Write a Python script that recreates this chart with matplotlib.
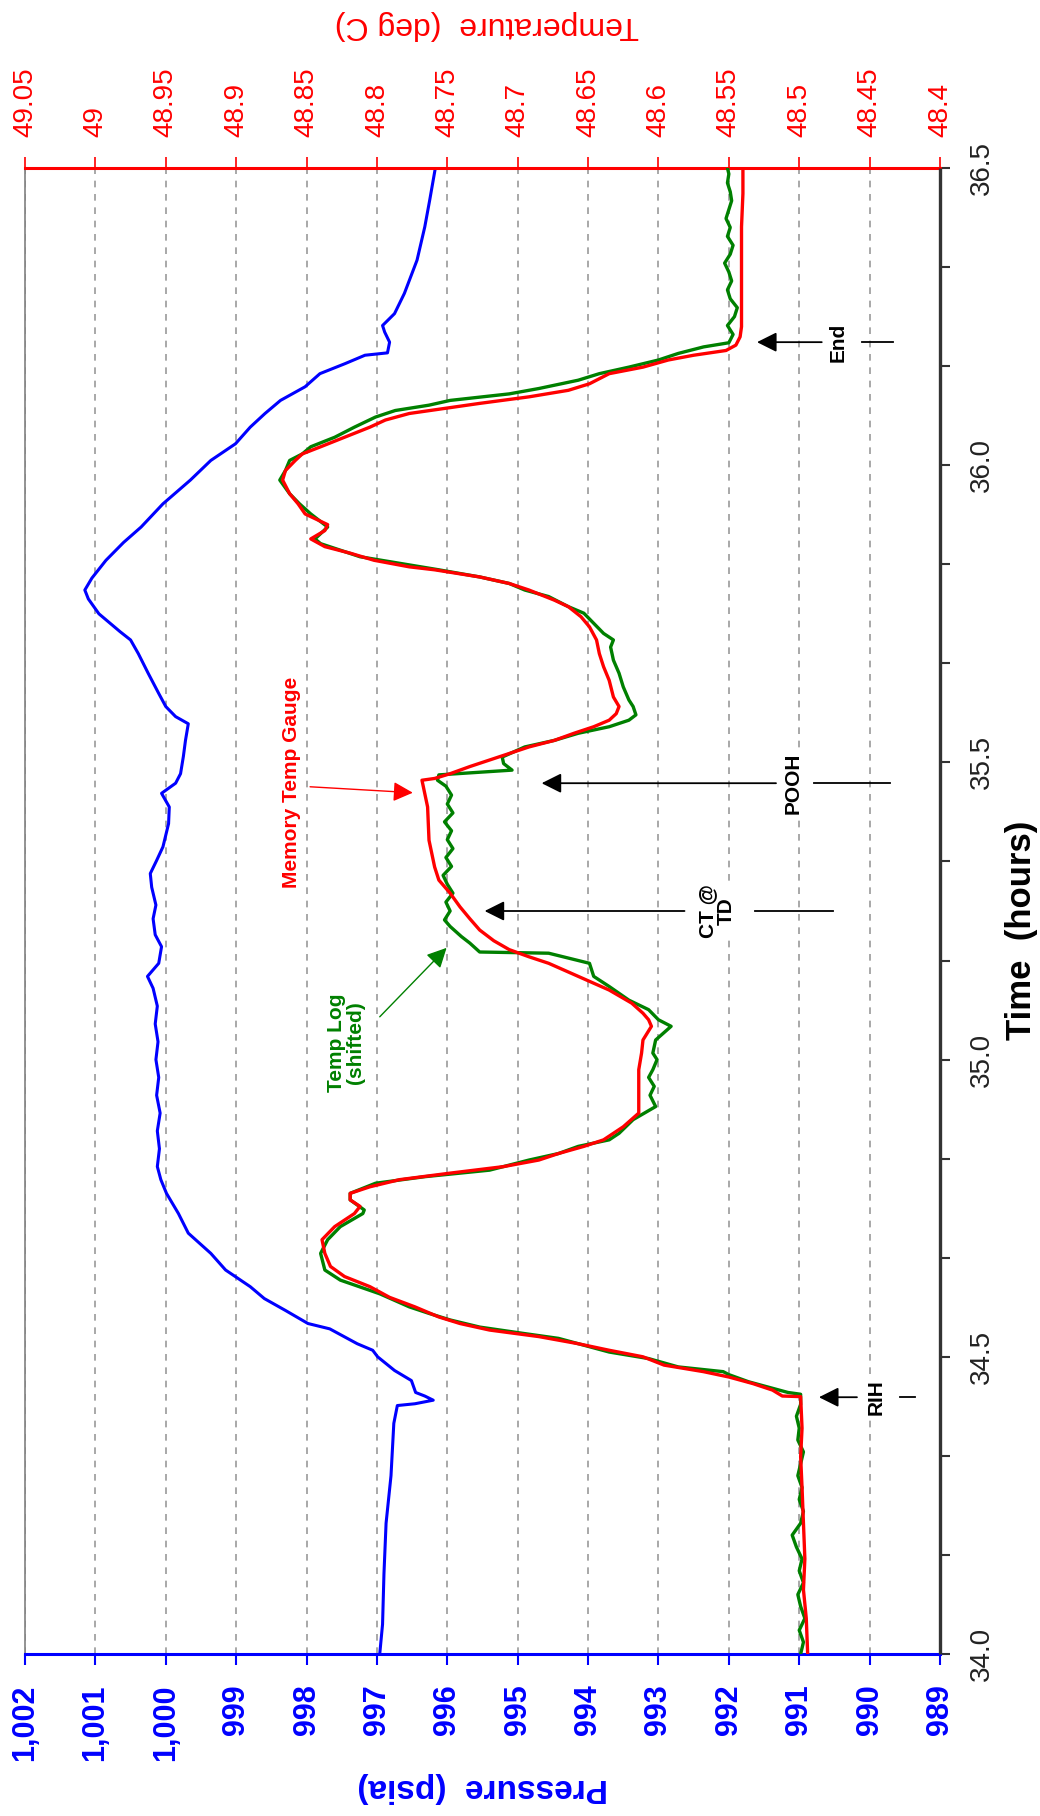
import numpy as np
import matplotlib
matplotlib.use("Agg")
import matplotlib.pyplot as plt
from matplotlib.ticker import FixedLocator

plt.rcParams['font.family'] = ['Liberation Sans', 'DejaVu Sans']

# ---------------- data ----------------
# Downhole pressure (psia) against elapsed time (hours)
time_p = [34.0, 34.05, 34.135, 34.22, 34.30, 34.388, 34.418, 34.421, 34.427, 34.434,
          34.44, 34.46, 34.477, 34.50, 34.511, 34.522, 34.547, 34.556, 34.578, 34.598,
          34.618, 34.646, 34.674, 34.708, 34.741, 34.775, 34.798, 34.82, 34.85, 34.88,
          34.91, 34.94, 34.97, 35.0, 35.03, 35.06, 35.09, 35.12, 35.14, 35.162,
          35.19, 35.21, 35.237, 35.26, 35.29, 35.313, 35.335, 35.358, 35.397, 35.425,
          35.448, 35.465, 35.481, 35.51, 35.537, 35.565, 35.577, 35.594, 35.616, 35.65,
          35.683, 35.706, 35.72, 35.75, 35.775, 35.79, 35.81, 35.84, 35.87, 35.896,
          35.935, 35.975, 36.008, 36.036, 36.064, 36.087, 36.109, 36.132, 36.154, 36.171,
          36.185, 36.189, 36.207, 36.224, 36.235, 36.255, 36.289, 36.345, 36.401, 36.446,
          36.5]
pressure = [996.96, 996.92, 996.90, 996.87, 996.80, 996.76, 996.71, 996.46, 996.20, 996.32,
            996.45, 996.51, 996.75, 996.99, 997.06, 997.28, 997.67, 997.98, 998.30, 998.60,
            998.80, 999.15, 999.36, 999.68, 999.82, 999.99, 1000.07, 1000.12, 1000.09, 1000.12,
            1000.08, 1000.13, 1000.10, 1000.14, 1000.11, 1000.15, 1000.12, 1000.18, 1000.26, 1000.10,
            1000.06, 1000.15, 1000.18, 1000.14, 1000.20, 1000.22, 1000.13, 1000.04, 999.96, 999.95,
            1000.06, 999.86, 999.79, 999.75, 999.72, 999.68, 999.86, 1000.00, 1000.10, 1000.25,
            1000.39, 1000.50, 1000.65, 1000.95, 1001.10, 1001.15, 1001.05, 1000.85, 1000.60, 1000.35,
            1000.04, 999.65, 999.36, 999.01, 998.80, 998.59, 998.37, 998.02, 997.81, 997.45,
            997.17, 996.85, 996.82, 996.89, 996.92, 996.75, 996.61, 996.43, 996.32, 996.25,
            996.17]

# Memory temperature gauge (deg C)
time_mem = [34.0, 34.06, 34.108, 34.16, 34.22, 34.28, 34.332, 34.38, 34.433, 34.434,
            34.444, 34.455, 34.466, 34.475, 34.486, 34.5, 34.511, 34.522, 34.534, 34.545,
            34.556, 34.567, 34.584, 34.6, 34.618, 34.635, 34.652, 34.674, 34.697, 34.719,
            34.741, 34.753, 34.764, 34.775, 34.786, 34.798, 34.809, 34.82, 34.831, 34.842,
            34.854, 34.865, 34.876, 34.887, 34.91, 34.932, 34.955, 34.983, 35.011, 35.033,
            35.056, 35.067, 35.078, 35.095, 35.117, 35.14, 35.162, 35.173, 35.185, 35.2,
            35.218, 35.237, 35.257, 35.28, 35.302, 35.324, 35.369, 35.425, 35.47, 35.473,
            35.481, 35.493, 35.504, 35.515, 35.526, 35.537, 35.549, 35.56, 35.571, 35.582,
            35.594, 35.61, 35.638, 35.661, 35.683, 35.706, 35.728, 35.745, 35.762, 35.773,
            35.79, 35.801, 35.812, 35.824, 35.829, 35.84, 35.852, 35.863, 35.876, 35.89,
            35.9, 35.918, 35.935, 35.952, 35.975, 35.991, 36.008, 36.019, 36.031, 36.047,
            36.064, 36.076, 36.087, 36.098, 36.104, 36.115, 36.126, 36.137, 36.154, 36.165,
            36.177, 36.185, 36.193, 36.202, 36.216, 36.233, 36.289, 36.345, 36.401, 36.457,
            36.5]
temp_mem = [48.494, 48.495, 48.497, 48.496, 48.497, 48.498, 48.499, 48.498, 48.499, 48.512,
            48.519, 48.533, 48.550, 48.568, 48.596, 48.611, 48.635, 48.657, 48.685, 48.720,
            48.741, 48.756, 48.773, 48.791, 48.805, 48.823, 48.833, 48.837, 48.839, 48.830,
            48.816, 48.812, 48.819, 48.819, 48.805, 48.784, 48.748, 48.710, 48.685, 48.671,
            48.653, 48.639, 48.632, 48.625, 48.614, 48.614, 48.614, 48.614, 48.612, 48.611,
            48.605, 48.607, 48.611, 48.619, 48.635, 48.657, 48.678, 48.692, 48.706, 48.717,
            48.727, 48.734, 48.741, 48.748, 48.756, 48.759, 48.763, 48.764, 48.768, 48.759,
            48.748, 48.734, 48.720, 48.706, 48.692, 48.674, 48.660, 48.646, 48.635, 48.630,
            48.628, 48.632, 48.635, 48.639, 48.642, 48.644, 48.649, 48.655, 48.664, 48.674,
            48.692, 48.706, 48.727, 48.759, 48.777, 48.802, 48.819, 48.837, 48.847, 48.837,
            48.835, 48.851, 48.856, 48.862, 48.867, 48.865, 48.858, 48.853, 48.840, 48.823,
            48.805, 48.794, 48.777, 48.745, 48.727, 48.692, 48.664, 48.649, 48.635, 48.611,
            48.593, 48.575, 48.552, 48.545, 48.542, 48.541, 48.541, 48.541, 48.541, 48.540,
            48.540]

# Temperature log, shifted in time (deg C)
time_log = [34.0, 34.02, 34.04, 34.06, 34.08, 34.10, 34.12, 34.14, 34.16, 34.18,
            34.20, 34.22, 34.24, 34.26, 34.28, 34.30, 34.32, 34.34, 34.36, 34.38,
            34.40, 34.42, 34.437,
            34.44, 34.449, 34.458, 34.47, 34.475, 34.483, 34.497, 34.508, 34.522, 34.531,
            34.539, 34.55, 34.562, 34.573, 34.584, 34.606, 34.629, 34.646, 34.674, 34.697,
            34.719, 34.741, 34.747, 34.764, 34.775, 34.792, 34.803, 34.814, 34.831, 34.842,
            34.854, 34.865, 34.876, 34.899, 34.921, 34.94, 34.955, 34.97, 34.983, 35.0,
            35.011, 35.033, 35.056, 35.067, 35.084, 35.1, 35.123, 35.14, 35.162, 35.179,
            35.181, 35.196, 35.207, 35.224,
            35.235, 35.25, 35.265, 35.28, 35.295, 35.31, 35.325, 35.34, 35.355, 35.37,
            35.385, 35.40, 35.415, 35.43, 35.445, 35.46,
            35.47, 35.479, 35.487, 35.498, 35.509, 35.526, 35.537, 35.549, 35.56, 35.571,
            35.58, 35.594, 35.605, 35.627, 35.65, 35.672, 35.694, 35.706, 35.717, 35.734,
            35.751, 35.762, 35.779, 35.79, 35.801, 35.812, 35.824, 35.835, 35.846, 35.857,
            35.868, 35.876, 35.896, 35.918, 35.935, 35.952, 35.975, 35.991, 36.008, 36.019,
            36.031, 36.047, 36.064, 36.081, 36.092, 36.101, 36.109, 36.12, 36.129, 36.143,
            36.154, 36.165, 36.177, 36.188, 36.199, 36.206,
            36.22, 36.235, 36.25, 36.265, 36.28, 36.295, 36.31, 36.325, 36.34, 36.355,
            36.37, 36.385, 36.40, 36.415, 36.43, 36.445, 36.46, 36.475, 36.49, 36.5]
temp_log = [48.499, 48.497, 48.500, 48.496, 48.499, 48.501, 48.497, 48.500, 48.498, 48.502,
            48.505, 48.499, 48.497, 48.500, 48.498, 48.501, 48.499, 48.497, 48.501, 48.500,
            48.502, 48.499, 48.499,
            48.508, 48.522, 48.536, 48.550, 48.554, 48.586, 48.607, 48.635, 48.657, 48.671,
            48.695, 48.727, 48.748, 48.763, 48.777, 48.798, 48.826, 48.837, 48.840, 48.835,
            48.826, 48.810, 48.809, 48.819, 48.819, 48.801, 48.766, 48.720, 48.692, 48.671,
            48.657, 48.635, 48.628, 48.618, 48.602, 48.606, 48.603, 48.607, 48.604, 48.601,
            48.604, 48.602, 48.591, 48.600, 48.607, 48.621, 48.635, 48.646, 48.649, 48.678,
            48.727, 48.734, 48.740, 48.748,
            48.752, 48.748, 48.751, 48.746, 48.750, 48.753, 48.747, 48.751, 48.746, 48.750,
            48.747, 48.752, 48.746, 48.750, 48.747, 48.751,
            48.757, 48.756, 48.704, 48.710, 48.711, 48.695, 48.674, 48.657, 48.635, 48.621,
            48.616, 48.618, 48.621, 48.625, 48.628, 48.632, 48.634, 48.632, 48.639, 48.646,
            48.653, 48.664, 48.678, 48.695, 48.706, 48.727, 48.756, 48.784, 48.812, 48.826,
            48.840, 48.844, 48.835, 48.847, 48.855, 48.862, 48.869, 48.865, 48.862, 48.853,
            48.847, 48.830, 48.816, 48.801, 48.787, 48.763, 48.748, 48.706, 48.685, 48.657,
            48.642, 48.621, 48.600, 48.586, 48.568, 48.550,
            48.547, 48.551, 48.546, 48.544, 48.549, 48.551, 48.548, 48.550, 48.553, 48.549,
            48.547, 48.551, 48.549, 48.552, 48.550, 48.548, 48.549, 48.551, 48.550, 48.551]

# Axis tick values and labels
pressure_ticks = [989, 990, 991, 992, 993, 994, 995, 996, 997, 998, 999, 1000, 1001, 1002]
pressure_labels = ["989", "990", "991", "992", "993", "994", "995", "996", "997", "998",
                   "999", "1,000", "1,001", "1,002"]
temp_ticks = [48.4, 48.45, 48.5, 48.55, 48.6, 48.65, 48.7, 48.75, 48.8, 48.85, 48.9,
              48.95, 49.0, 49.05]
temp_labels = ["48.4", "48.45", "48.5", "48.55", "48.6", "48.65", "48.7", "48.75", "48.8",
               "48.85", "48.9", "48.95", "49", "49.05"]
time_ticks = [34.0, 34.5, 35.0, 35.5, 36.0, 36.5]
time_labels = ["34.0", "34.5", "35.0", "35.5", "36.0", "36.5"]

# ---------------- figure ----------------
BLUE = "#0000FF"
RED = "#FF0000"
GREEN = "#008000"
BLACK = "#000000"
FRAME = "#333333"

fig = plt.figure(figsize=(10.4, 18.16), dpi=100)
ax = fig.add_axes([25 / 1040, 162 / 1816, 915 / 1040, 1486 / 1816])
ax2 = ax.twiny()

# pressure on the lower horizontal axis, time on the right-hand vertical axis
ax.set_xlim(1002, 989)
ax.set_ylim(34.0, 36.5)
ax2.set_xlim(49.05, 48.4)

ax.grid(axis='x', color='#9a9a9a', linestyle=(0, (4, 4)), linewidth=1.2)
ax.set_axisbelow(True)

ax.plot(pressure, time_p, color=BLUE, lw=2.2, zorder=3)
ax2.plot(temp_log, time_log, color=GREEN, lw=2.4, zorder=3)
ax2.plot(temp_mem, time_mem, color=RED, lw=2.4, zorder=4)

# pressure axis (bottom)
ax.xaxis.set_major_locator(FixedLocator(pressure_ticks))
ax.set_xticklabels(pressure_labels)
ax.tick_params(axis='x', which='both', bottom=True, top=False, direction='out',
               length=8, width=1.5, color=BLUE, labelcolor=BLUE, labelsize=22,
               labelrotation=90, pad=14)
for lab in ax.get_xticklabels():
    lab.set_fontweight('bold')
    lab.set_va('top')
    lab.set_ha('center')

# temperature axis (top)
ax2.xaxis.set_major_locator(FixedLocator(temp_ticks))
ax2.set_xticklabels(temp_labels)
ax2.tick_params(axis='x', which='both', top=True, bottom=False, direction='out',
                length=8, width=1.2, color=RED, labelcolor=RED, labelsize=20,
                labelrotation=90, pad=14)

# time axis (right)
ax.yaxis.tick_right()
ax.yaxis.set_major_locator(FixedLocator(time_ticks))
ax.yaxis.set_minor_locator(FixedLocator(np.arange(34.0, 36.5 + 1e-9, 1.0 / 6.0)))
ax.set_yticklabels(time_labels)
ax.tick_params(axis='y', which='both', right=True, left=False, direction='out',
               length=7, width=1.5, color=FRAME, labelcolor='#222222',
               labelsize=20, pad=14)
for lab in ax.get_yticklabels():
    lab.set_rotation(90)
    lab.set_va('center')
    lab.set_ha('left')

# frame
for s in ('top', 'right'):
    ax.spines[s].set_visible(False)
ax.spines['bottom'].set_color(BLUE)
ax.spines['bottom'].set_linewidth(2.2)
ax.spines['left'].set_color('#808080')
ax.spines['left'].set_linewidth(1.2)
for s in ('bottom', 'left', 'right'):
    ax2.spines[s].set_visible(False)
ax2.spines['top'].set_color(RED)
ax2.spines['top'].set_linewidth(2.2)
# dark right-hand edge drawn last, above everything in the plot area
ax2.plot([1.0, 1.0], [0.0, 1.0], transform=ax2.transAxes, color=FRAME, lw=2.4,
         clip_on=False, zorder=20, solid_capstyle='butt')

# axis titles
fig.text(487 / 1040, 1 - 25 / 1816, "Temperature  (deg C)", color=RED, fontsize=23,
         rotation=180, ha='center', va='center')
fig.text(483 / 1040, 1 - 1787 / 1816, "Pressure  (psia)", color=BLUE, fontsize=24,
         fontweight='bold', rotation=180, ha='center', va='center')
fig.text(1021 / 1040, 1 - 930 / 1816, "Time  (hours)", color=BLACK, fontsize=25,
         fontweight='bold', rotation=90, ha='center', va='center')

# ---------------- event markers ----------------
head = '-|>,head_length=0.4,head_width=0.2'
box = dict(facecolor='white', edgecolor='none', pad=1.5)


def event(label, t, tip, line_end, text_p, far_start, far_end):
    ax.annotate('', xy=(tip, t), xytext=(line_end, t),
                arrowprops=dict(arrowstyle=head, mutation_scale=30, color=BLACK,
                                lw=1.3, shrinkA=0, shrinkB=0), zorder=6)
    ax.plot([far_start, far_end], [t, t], color=BLACK, lw=1.3, zorder=6)
    ax.text(text_p, t, label, rotation=90, ha='center', va='center', fontsize=15,
            fontweight='bold', color=BLACK, bbox=box, zorder=7,
            multialignment='center', linespacing=1.0)


event("End", 36.207, 991.60, 990.68, 990.45, 990.11, 989.67)
event("POOH", 35.465, 994.66, 991.33, 991.09, 990.79, 989.71)
event("CT @\nTD", 35.250, 995.47, 992.63, 992.17, 991.63, 990.52)
event("RIH", 34.432, 990.72, 990.18, 989.91, 989.57, 989.36)

# curve labels
ax.annotate('', xy=(996.49, 35.449), xytext=(997.95, 35.459),
            arrowprops=dict(arrowstyle=head, mutation_scale=30, color=RED, lw=1.0,
                            shrinkA=0, shrinkB=0), zorder=6)
ax.text(998.21, 35.467, "Memory Temp Gauge", rotation=90, ha='center', va='center',
        fontsize=15, fontweight='bold', color=RED, bbox=box, zorder=7)

ax.annotate('', xy=(996.01, 35.188), xytext=(996.96, 35.072),
            arrowprops=dict(arrowstyle=head, mutation_scale=30, color=GREEN, lw=1.0,
                            shrinkA=0, shrinkB=0), zorder=6)
ax.text(997.44, 35.028, "Temp Log\n(shifted)", rotation=90, ha='center', va='center',
        fontsize=15, fontweight='bold', color=GREEN, bbox=box, zorder=7,
        multialignment='center', linespacing=1.05)

fig.savefig("out.png", dpi=100, facecolor='white')
